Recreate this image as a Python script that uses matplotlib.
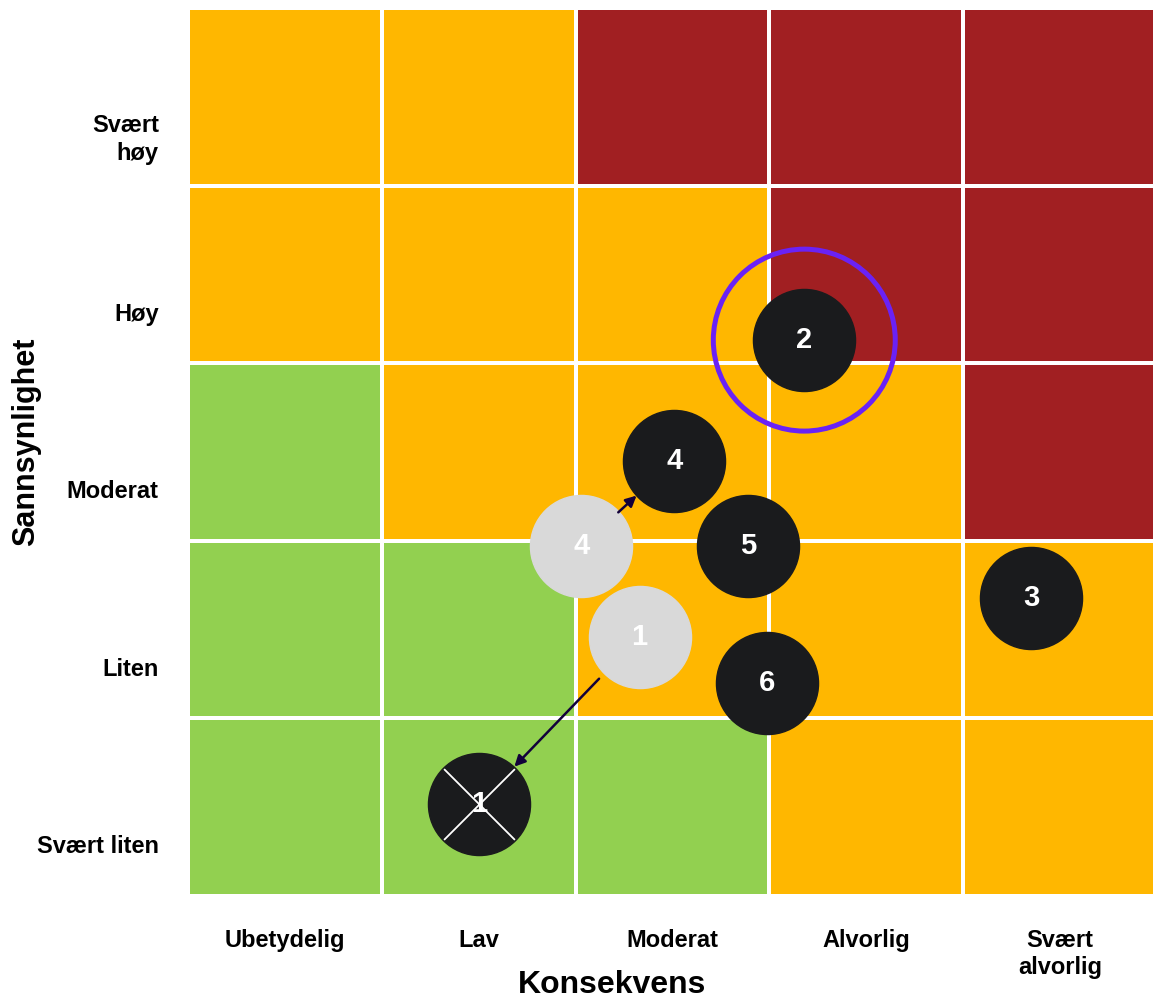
import numpy as np
import matplotlib
matplotlib.use('Agg')
import matplotlib.pyplot as plt
from matplotlib.colors import ListedColormap

green_color = '#92D050'
orange_color = '#FFB700'
red_color = '#A11F22'
dark_color = '#1A1B1D'
light_color = '#D9D9D9'
ring_color = '#6A22F5'
arrow_color = '#12003A'
label_font = ['Liberation Sans', 'DejaVu Sans']

consequence_labels = ['Ubetydelig', 'Lav', 'Moderat', 'Alvorlig', 'Svært\nalvorlig']
likelihood_labels = ['Svært liten', 'Liten', 'Moderat', 'Høy', 'Svært\nhøy']

# risk level per cell, rows from bottom (Svært liten) to top (Svært høy)
# 0 = low (green), 1 = medium (orange), 2 = high (red)
risk_matrix = np.array([[0, 0, 0, 1, 1],
                        [0, 0, 1, 1, 1],
                        [0, 1, 1, 1, 2],
                        [1, 1, 1, 2, 2],
                        [1, 1, 2, 2, 2]])

# current risk placement (consequence, likelihood in cell units)
risk_ids = ['1', '2', '3', '4', '5', '6']
risk_x = [1.50, 3.18, 4.35, 2.51, 2.89, 2.99]
risk_y = [0.52, 3.13, 1.68, 2.45, 1.97, 1.20]

# previous placement of risks that moved
prev_ids = ['4', '1']
prev_x = [2.03, 2.33]
prev_y = [1.97, 1.46]

highlight_id = '2'
closed_id = '1'

def plot_matrix(fileout='out.png'):

    fig = plt.figure(figsize=(11.53, 9.99), dpi=100)
    ax = fig.add_axes([188/1153, 103/999, 969/1153, 888/999])

    cmap = ListedColormap([green_color, orange_color, red_color])
    ax.pcolormesh(np.arange(6), np.arange(6), risk_matrix, cmap=cmap, vmin=0, vmax=2,
                  edgecolors='white', linewidth=1.6)
    ax.set_xlim(0, 5)
    ax.set_ylim(0, 5)
    for spine in ax.spines.values():
        spine.set_visible(False)

    ax.set_xticks(np.arange(5) + 0.5)
    ax.set_xticklabels(consequence_labels, fontsize=17, fontweight='bold',
                       family=label_font, linespacing=1.2)
    ax.set_yticks(np.arange(5) + 0.5 - 0.21)
    ax.set_yticklabels(likelihood_labels, fontsize=17, fontweight='bold',
                       family=label_font, linespacing=1.3)
    ax.tick_params(axis='x', length=0, pad=24)
    ax.tick_params(axis='y', length=0, pad=21)

    size = 73.5**2
    # previous positions and arrows to new positions
    for pid, px, py in zip(prev_ids, prev_x, prev_y):
        ax.scatter(px, py, s=size, color=light_color, zorder=3, clip_on=False)
        ax.text(px, py, pid, color='white', fontsize=21, fontweight='bold',
                family=label_font, ha='center', va='center', zorder=4)
        j = risk_ids.index(pid)
        ax.annotate('', xy=(risk_x[j], risk_y[j]), xytext=(px, py),
                    arrowprops=dict(arrowstyle='-|>', color=arrow_color, lw=1.8,
                                    mutation_scale=16,
                                    shrinkA=42 if pid == '1' else 36, shrinkB=37),
                    zorder=5)

    for rid, rx, ry in zip(risk_ids, risk_x, risk_y):
        ax.scatter(rx, ry, s=size, color=dark_color, zorder=6, clip_on=False)
        if rid == closed_id:
            ax.scatter(rx, ry, s=51**2, marker='x', color='white', linewidths=1.3, zorder=7)
        ax.text(rx, ry, rid, color='white', fontsize=21, fontweight='bold',
                family=label_font, ha='center', va='center', zorder=8)
        if rid == highlight_id:
            ax.scatter(rx, ry, s=131**2, facecolor='none', edgecolor=ring_color,
                       linewidths=3.6, zorder=9)

    fig.text(612/1153, 1 - 993/999, 'Konsekvens', fontsize=23, fontweight='bold',
             family=label_font, ha='center', va='baseline')
    fig.text(26/1153, 1 - 442/999, 'Sannsynlighet', fontsize=22, fontweight='bold',
             family=label_font, ha='center', va='center', rotation=90)

    fig.savefig(fileout, dpi=100)

def main():
    plot_matrix()

if __name__ == "__main__":
    main()
